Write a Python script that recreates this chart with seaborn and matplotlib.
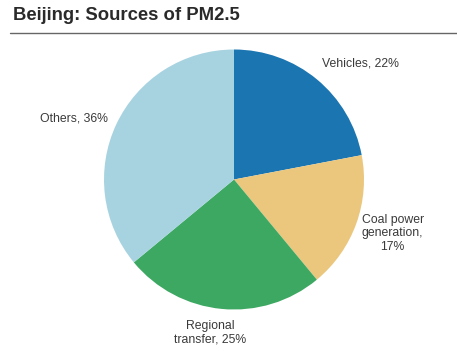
import seaborn as sns
import matplotlib.pyplot as plt
from matplotlib.lines import Line2D

# PM2.5 source shares for Beijing
sources = ['Vehicles', 'Coal power\ngeneration', 'Regional\ntransfer', 'Others']
shares = [22, 17, 25, 36]
label_text = ['Vehicles, 22%', 'Coal power\ngeneration,\n17%', 'Regional\ntransfer, 25%', 'Others, 36%']
label_pos = [(0.97, 0.89), (1.22, -0.415), (-0.18, -1.18), (-1.23, 0.47)]

sns.set_theme(style='white')
plt.rcParams['font.family'] = ['Liberation Sans', 'DejaVu Sans']
colors = sns.color_palette(['#1b75b1', '#ebc77d', '#3da862', '#a7d3e1'])

fig = plt.figure(figsize=(4.57, 3.51), dpi=100)
ax = fig.add_axes([0, 0, 1, 1])
ax.pie(shares, colors=colors, startangle=90, counterclock=False, radius=1.0,
       wedgeprops=dict(linewidth=0))
for txt, (x, y) in zip(label_text, label_pos):
    ax.text(x, y, txt, ha='center', va='center', fontsize=8.8, color='#3a3a3a',
            linespacing=1.2)
ax.set_xlim(-234 / 130, (457 - 234) / 130)
ax.set_ylim(-171.5 / 130, 179.5 / 130)
ax.set_aspect('auto')
ax.axis('off')

fig.text(13 / 457, 1 - 16 / 351, 'Beijing: Sources of PM2.5', fontsize=13.3,
         fontweight='bold', color='#2a2a2a', ha='left', va='center')
fig.add_artist(Line2D([10 / 457, 1.0], [1 - 33 / 351, 1 - 33 / 351],
                      transform=fig.transFigure, color='#666666', linewidth=1.0))

fig.savefig('out.png', dpi=100)
